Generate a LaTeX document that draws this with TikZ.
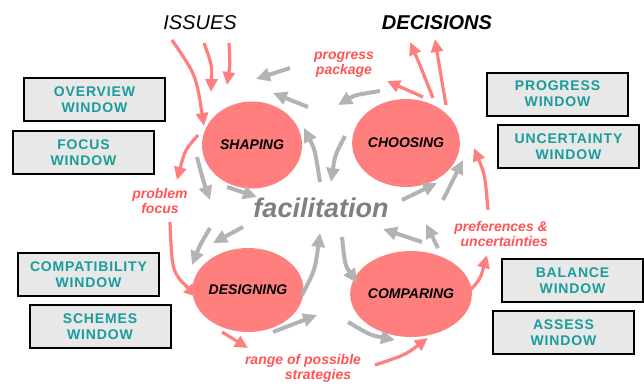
\documentclass[tikz,border=0pt]{standalone}
\usepackage{fontspec}
\setmainfont{Liberation Sans}
\newfontfamily\windowfont[LetterSpace=6]{Liberation Sans}
\usetikzlibrary{arrows.meta, shapes.geometric, positioning}

\definecolor{salmon}{HTML}{FF7F7F}
\definecolor{labelred}{HTML}{FF5555}
\definecolor{arrowgrey}{HTML}{B3B3B3}
\definecolor{facgrey}{HTML}{7F7F7F}
\definecolor{boxgrey}{HTML}{E8E8E8}
\definecolor{wintext}{HTML}{1A9C9C}

\begin{document}
\begin{tikzpicture}[x=1pt, y=-1pt,
  stage/.style={ellipse, fill=salmon, inner sep=0pt, font=\fontsize{14}{16}\selectfont\bfseries\itshape},
  window/.style={draw=black, line width=2pt, fill=boxgrey, minimum width=141pt, minimum height=43pt, inner sep=0pt, text=wintext, align=center, font=\windowfont\fontsize{14}{16}\selectfont\bfseries},
  redlabel/.style={text=labelred, inner sep=0pt, font=\fontsize{14}{15}\selectfont\bfseries\itshape},
  redarrow/.style={draw=salmon, line width=3.2pt, -{Triangle[length=13pt,width=12pt]}},
  greyarrow/.style={draw=arrowgrey, line width=4pt, -{Triangle[length=14pt,width=13pt]}}]
\useasboundingbox (0,0) rectangle (644,383);

% Stages
\node[stage, minimum width=100pt, minimum height=87pt] (shaping) at (252,145) {SHAPING};
\node[stage, minimum width=101pt, minimum height=88pt] (choosing) at (406,143) {CHOOSING};
\node[stage, minimum width=100pt, minimum height=84pt] (designing) at (248,290) {DESIGNING};
\node[stage, minimum width=103pt, minimum height=86pt] (comparing) at (411,294) {COMPARING};

% Titles
\node[font=\fontsize{20}{22}\selectfont\itshape] (issues) at (200,23) {ISSUES};
\node[font=\fontsize{20}{22}\selectfont\bfseries\itshape] (decisions) at (437,23) {DECISIONS};
\node[text=facgrey, inner sep=0pt, font=\fontsize{27}{30}\selectfont\bfseries\itshape] (facil) at (321,208) {facilitation};

% Red labels
\node[redlabel, align=center] (package) at (344,65) {progress\\package};
\node[redlabel, align=center] (problem) at (160,201) {problem\\focus};
\node[redlabel, align=right, anchor=east] (prefs) at (548,234) {preferences \&\\uncertainties};
\node[redlabel] (rangeA) at (303,361) {range of possible};
\node[redlabel] (rangeB) at (318,376) {strategies};

% Windows
\node[window] (overview) at (94.5,99.5) {OVERVIEW\\WINDOW};
\node[window] (focus) at (83.5,152.5) {FOCUS\\WINDOW};
\node[window] (progress) at (557.5,94) {PROGRESS\\WINDOW};
\node[window] (uncert) at (568.5,146.5) {UNCERTAINTY\\WINDOW};
\node[window] (compat) at (88.5,274.5) {COMPATIBILITY\\WINDOW};
\node[window] (schemes) at (100,326.5) {SCHEMES\\WINDOW};
\node[window] (balance) at (572.5,280.5) {BALANCE\\WINDOW};
\node[window] (assess) at (563.5,332.5) {ASSESS\\WINDOW};

% Red arrows
\draw[redarrow] (172,40) .. controls (196,75) .. (204,126);
\draw[redarrow] (204,43) .. controls (212,65) .. (211,92);
\draw[redarrow] (229,43) .. controls (230,65) .. (227,85);
\draw[redarrow] (198,135) .. controls (185,150) .. (177,180);
\draw[redarrow] (423,97) -- (387,81);
\draw[redarrow] (433,98) .. controls (420,65) .. (410,42);
\draw[redarrow] (446,105) .. controls (440,70) .. (435,39);
\draw[redarrow] (170,222) .. controls (172,272) .. (197,297);
\draw[redarrow] (222,332) -- (248,348);
\draw[redarrow] (375,365) .. controls (405,355) .. (428,338);
\draw[redarrow] (463,298) .. controls (480,280) .. (487,255);
\draw[redarrow] (488,210) .. controls (485,175) .. (474,148);

% Grey arrows
\draw[greyarrow] (290,68) -- (256,79);
\draw[greyarrow] (308,107) -- (273,93);
\draw[greyarrow] (380,91) .. controls (355,95) .. (338,105);
\draw[greyarrow] (320,182) .. controls (315,150) .. (304,128);
\draw[greyarrow] (345,136) .. controls (335,155) .. (331,182);
\draw[greyarrow] (197,157) .. controls (203,180) .. (210,200);
\draw[greyarrow] (227,187) -- (257,197);
\draw[greyarrow] (402,200) -- (437,183);
\draw[greyarrow] (443,200) -- (463,160);
\draw[greyarrow] (243,227) -- (213,243);
\draw[greyarrow] (210,228) .. controls (200,245) .. (192,265);
\draw[greyarrow] (302,295) .. controls (315,270) .. (320,233);
\draw[greyarrow] (273,332) -- (317,315);
\draw[greyarrow] (342,237) .. controls (345,265) .. (357,283);
\draw[greyarrow] (348,322) .. controls (370,335) .. (395,340);
\draw[greyarrow] (422,242) -- (383,229);
\draw[greyarrow] (438,248) -- (426,224);
\end{tikzpicture}
\end{document}
